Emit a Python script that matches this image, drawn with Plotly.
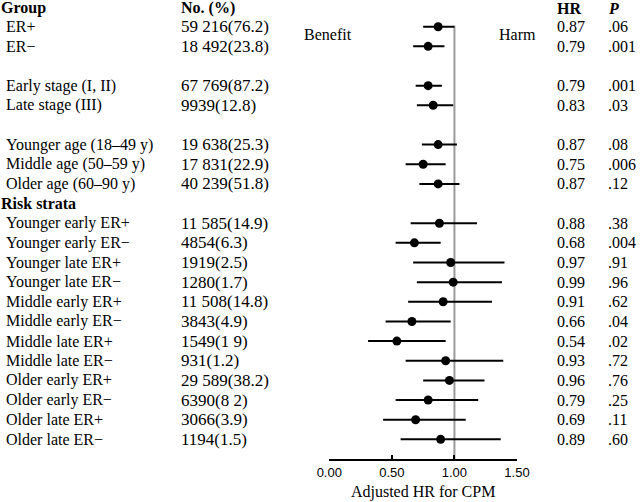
import plotly.graph_objects as go

# ---- data ----
labels = ["ER+", "ER−", "", "Early stage (I, II)", "Late stage (III)", "",
          "Younger age (18–49 y)", "Middle age (50–59 y)", "Older age (60–90 y)",
          "Risk strata",
          "Younger early ER+", "Younger early ER−", "Younger late ER+", "Younger late ER−",
          "Middle early ER+", "Middle early ER−", "Middle late ER+", "Middle late ER−",
          "Older early ER+", "Older early ER−", "Older late ER+", "Older late ER−"]
counts = ["59 216(76.2)", "18 492(23.8)", "", "67 769(87.2)", "9939(12.8)", "",
          "19 638(25.3)", "17 831(22.9)", "40 239(51.8)", "",
          "11 585(14.9)", "4854(6.3)", "1919(2.5)", "1280(1.7)",
          "11 508(14.8)", "3843(4.9)", "1549(1 9)", "931(1.2)",
          "29 589(38.2)", "6390(8 2)", "3066(3.9)", "1194(1.5)"]
hr = [0.87, 0.79, None, 0.79, 0.83, None, 0.87, 0.75, 0.87, None,
      0.88, 0.68, 0.97, 0.99, 0.91, 0.66, 0.54, 0.93, 0.96, 0.79, 0.69, 0.89]
ci_lo = [0.75, 0.67, None, 0.69, 0.70, None, 0.74, 0.61, 0.72, None,
         0.65, 0.53, 0.67, 0.70, 0.63, 0.45, 0.31, 0.61, 0.75, 0.53, 0.43, 0.57]
ci_hi = [1.00, 0.92, None, 0.90, 0.99, None, 1.02, 0.93, 1.04, None,
         1.18, 0.89, 1.40, 1.38, 1.30, 0.97, 0.93, 1.39, 1.24, 1.19, 1.09, 1.37]
p_vals = [".06", ".001", "", ".001", ".03", "", ".08", ".006", ".12", "",
          ".38", ".004", ".91", ".96", ".62", ".04", ".02", ".72", ".76", ".25", ".11", ".60"]
hr_text = ["" if h is None else f"{h:.2f}" for h in hr]
bold_rows = {"Risk strata"}
tick_vals = [0.0, 0.5, 1.0, 1.5]
tick_text = ["0.00", "0.50", "1.00", "1.50"]

# ---- layout helpers ----
W, H = 640, 502
SERIF = "Liberation Serif, Times New Roman, serif"
SANS = "Liberation Sans, Arial, sans-serif"
FS = 16
n = len(labels)
rows = list(range(n))

def px(x):
    return x / W

fig = go.Figure()

# reference line at HR = 1
fig.add_trace(go.Scatter(x=[1, 1], y=[-0.05, n], mode="lines",
                         line=dict(color="#9a9a9a", width=2), hoverinfo="skip",
                         showlegend=False))

idx = [i for i in rows if hr[i] is not None]
fig.add_trace(go.Scatter(
    x=[hr[i] for i in idx], y=idx, mode="markers",
    marker=dict(color="black", size=9),
    error_x=dict(type="data", symmetric=False,
                 array=[ci_hi[i] - hr[i] for i in idx],
                 arrayminus=[hr[i] - ci_lo[i] for i in idx],
                 color="black", thickness=2, width=0),
    showlegend=False, cliponaxis=False))

ann = []
def add(x, y, text, bold=False, italic=False, size=FS, font=SERIF):
    t = text
    if bold:
        t = f"<b>{t}</b>"
    if italic:
        t = f"<i>{t}</i>"
    ann.append(dict(x=px(x), y=y, xref="paper", yref="y", text=t, showarrow=False,
                    xanchor="left", yanchor="middle",
                    font=dict(family=font, size=size, color="black")))

# headers
hdr = -0.95
add(-1, hdr, "Group", bold=True)
add(179, hdr, "No. (%)", bold=True)
add(555, hdr, "HR", bold=True)
add(606, hdr, "P", bold=True, italic=True)
add(302, 0.42, "Benefit")
add(497, 0.42, "Harm")

for i in rows:
    if labels[i]:
        if labels[i] in bold_rows:
            add(-1, i, labels[i], bold=True)
        else:
            add(4, i, labels[i])
    if counts[i]:
        add(179, i, counts[i], size=17)
    if hr_text[i]:
        add(555, i, hr_text[i])
    if p_vals[i]:
        add(606, i, p_vals[i])

y_top_row = -26.7 / 19.65
axis_px = 459
y_bottom_row = (axis_px - 26.7) / 19.65

fig.update_layout(
    width=W, height=H, margin=dict(l=0, r=0, t=0, b=0, autoexpand=False),
    paper_bgcolor="white", plot_bgcolor="white",
    annotations=ann,
    xaxis=dict(domain=[329.3 / W, 517 / W], range=[0, 1.5], automargin=False,
               tickvals=tick_vals, ticktext=tick_text,
               ticks="inside", ticklen=4, tickwidth=2, tickcolor="black",
               showline=True, linecolor="black", linewidth=2,
               showgrid=False, zeroline=False,
               tickfont=dict(family=SANS, size=13, color="black"),
               title=dict(text="Adjusted HR for CPM",
                          font=dict(family=SERIF, size=FS, color="black"),
                          standoff=7)),
    yaxis=dict(domain=[(H - axis_px) / H, 1], range=[y_bottom_row, y_top_row],
               automargin=False, visible=False, showgrid=False, zeroline=False),
)

fig.write_html("out.html", config={"displayModeBar": False},
               post_script="document.body.style.margin='0';document.body.style.overflow='hidden';")
